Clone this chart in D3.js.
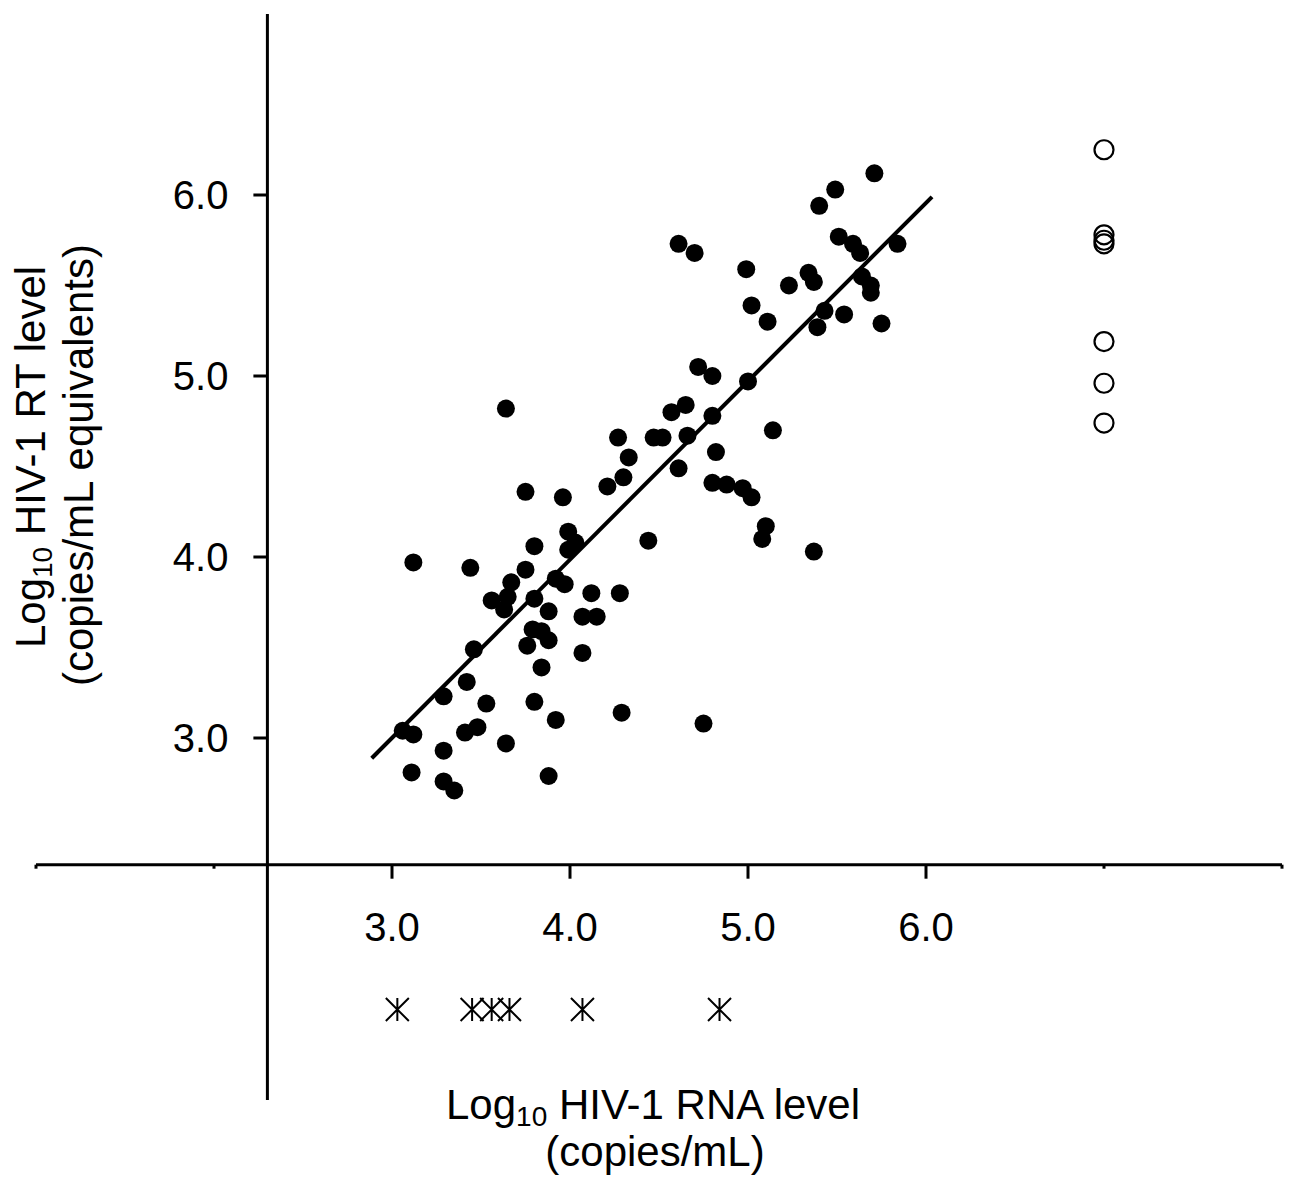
<!DOCTYPE html>
<html>

<head>
    <meta charset="utf-8">
    <title>HIV-1 RT vs RNA</title>
    <script src="https://d3js.org/d3.v7.min.js"></script>
    <style>
        body { margin: 0; background: #fff; }
        text { font-family: "Liberation Sans", Arial, sans-serif; fill: #000; }
    </style>
</head>

<body>
    <div id="chart"></div>

    <script>
        // filled dots: log10 RNA (x) vs log10 RT (y)
        const rnaLevels = [3.06, 3.12, 3.11, 3.12, 3.29, 3.29, 3.29, 3.35, 3.42, 3.41,
            3.44, 3.46, 3.48, 3.53, 3.56, 3.63, 3.65, 3.64, 3.64, 3.67,
            3.75, 3.75, 3.76, 3.79, 3.80, 3.80, 3.80, 3.84, 3.84, 3.88,
            3.88, 3.88, 3.92, 3.92, 3.96, 3.97, 3.99, 3.99, 4.03, 4.07,
            4.07, 4.12, 4.15, 4.21, 4.27, 4.28, 4.29, 4.30, 4.33, 4.44,
            4.47, 4.52, 4.57, 4.61, 4.61, 4.65, 4.66, 4.70, 4.72, 4.75,
            4.80, 4.80, 4.80, 4.82, 4.88, 4.97, 4.99, 5.00, 5.02, 5.02,
            5.10, 5.08, 5.11, 5.14, 5.23, 5.34, 5.37, 5.37, 5.39, 5.40,
            5.43, 5.49, 5.51, 5.54, 5.59, 5.63, 5.64, 5.69, 5.69, 5.71,
            5.75, 5.84];
        const rtLevels = [3.04, 3.02, 2.81, 3.97, 3.23, 2.93, 2.76, 2.71, 3.31, 3.03,
            3.94, 3.49, 3.06, 3.19, 3.76, 3.71, 3.78, 2.97, 4.82, 3.86,
            3.93, 4.36, 3.51, 3.60, 3.20, 4.06, 3.77, 3.39, 3.59, 3.54,
            3.70, 2.79, 3.10, 3.88, 4.33, 3.85, 4.14, 4.04, 4.08, 3.67,
            3.47, 3.80, 3.67, 4.39, 4.66, 3.80, 3.14, 4.44, 4.55, 4.09,
            4.66, 4.66, 4.80, 4.49, 5.73, 4.84, 4.67, 5.68, 5.05, 3.08,
            5.00, 4.78, 4.41, 4.58, 4.40, 4.38, 5.59, 4.97, 4.33, 5.39,
            4.17, 4.10, 5.30, 4.70, 5.50, 5.57, 5.52, 4.03, 5.27, 5.94,
            5.36, 6.03, 5.77, 5.34, 5.73, 5.68, 5.55, 5.50, 5.46, 6.12,
            5.29, 5.73];

        // open circles: RT detected, plotted at RNA = 7.0
        const openRna = [7.0, 7.0, 7.0, 7.0, 7.0, 7.0, 7.0];
        const openRt = [6.25, 5.78, 5.75, 5.73, 5.19, 4.96, 4.74];

        // asterisks: RNA detected, RT plotted at 1.5
        const starRna = [3.03, 3.45, 3.56, 3.66, 4.07, 4.84];
        const starRt = [1.5, 1.5, 1.5, 1.5, 1.5, 1.5];

        // regression line end points
        const fitX = [2.886, 6.034];
        const fitY = [2.888, 5.99];

        const majorTicks = [3, 4, 5, 6];
        const minorXTicks = [1, 2, 7, 8];
        const tickLabels = ["3.0", "4.0", "5.0", "6.0"];
        const axisCross = 2.3;

        const width = 1295, height = 1177;

        const svg = d3.select("#chart")
            .append("svg")
            .attr("width", width)
            .attr("height", height);

        const x = d3.scaleLinear().domain([1, 8]).range([36, 1282]);
        const y = d3.scaleLinear().domain([1, 7]).range([1100, 14]);

        // horizontal axis (crosses at 2.3)
        const xAxis = svg.append("g")
            .attr("transform", `translate(0, ${y(axisCross)})`);
        xAxis.append("line")
            .attr("x1", x(1)).attr("x2", x(8))
            .attr("stroke", "#000").attr("stroke-width", 3);
        xAxis.selectAll(".major")
            .data(majorTicks)
            .join("line")
            .attr("x1", d => x(d)).attr("x2", d => x(d))
            .attr("y1", 0).attr("y2", 14)
            .attr("stroke", "#000").attr("stroke-width", 3);
        xAxis.selectAll(".minor")
            .data(minorXTicks)
            .join("line")
            .attr("class", "minor")
            .attr("x1", d => x(d)).attr("x2", d => x(d))
            .attr("y1", 0).attr("y2", 4)
            .attr("stroke", "#000").attr("stroke-width", 3);
        xAxis.selectAll("text")
            .data(majorTicks)
            .join("text")
            .attr("x", d => x(d))
            .attr("y", 76)
            .attr("text-anchor", "middle")
            .style("font-size", "40px")
            .text((d, i) => tickLabels[i]);

        // vertical axis (crosses at 2.3)
        const yAxis = svg.append("g")
            .attr("transform", `translate(${x(axisCross)}, 0)`);
        yAxis.append("line")
            .attr("y1", y(1)).attr("y2", y(7))
            .attr("stroke", "#000").attr("stroke-width", 3);
        yAxis.selectAll(".major")
            .data(majorTicks)
            .join("line")
            .attr("y1", d => y(d)).attr("y2", d => y(d))
            .attr("x1", 0).attr("x2", -14)
            .attr("stroke", "#000").attr("stroke-width", 3);
        yAxis.selectAll("text")
            .data(majorTicks)
            .join("text")
            .attr("x", -39)
            .attr("y", d => y(d))
            .attr("dy", "0.35em")
            .attr("text-anchor", "end")
            .style("font-size", "40px")
            .text((d, i) => tickLabels[i]);

        // regression line
        svg.append("line")
            .attr("x1", x(fitX[0])).attr("y1", y(fitY[0]))
            .attr("x2", x(fitX[1])).attr("y2", y(fitY[1]))
            .attr("stroke", "#000").attr("stroke-width", 4);

        // filled dots
        svg.append("g")
            .selectAll("circle")
            .data(rnaLevels)
            .join("circle")
            .attr("cx", d => x(d))
            .attr("cy", (d, i) => y(rtLevels[i]))
            .attr("r", 9)
            .attr("fill", "#000");

        // open circles
        svg.append("g")
            .selectAll("circle")
            .data(openRna)
            .join("circle")
            .attr("cx", d => x(d))
            .attr("cy", (d, i) => y(openRt[i]))
            .attr("r", 9.5)
            .attr("fill", "none")
            .attr("stroke", "#000")
            .attr("stroke-width", 2.2);

        // asterisks
        const h = 11.5;
        svg.append("g")
            .selectAll("path")
            .data(starRna)
            .join("path")
            .attr("transform", (d, i) => `translate(${x(d)}, ${y(starRt[i])})`)
            .attr("d", `M0,${-h}L0,${h}M${-h},${-h}L${h},${h}M${-h},${h}L${h},${-h}`)
            .attr("stroke", "#000")
            .attr("stroke-width", 2)
            .attr("fill", "none");

        // x axis title
        const xt = svg.append("text")
            .attr("x", 653)
            .attr("y", 1119)
            .attr("text-anchor", "middle")
            .style("font-size", "42px");
        xt.append("tspan").text("Log");
        xt.append("tspan").attr("dy", 7).style("font-size", "28px").text("10");
        xt.append("tspan").attr("dy", -7).text(" HIV-1 RNA level");
        svg.append("text")
            .attr("x", 655)
            .attr("y", 1166)
            .attr("text-anchor", "middle")
            .style("font-size", "42px")
            .text("(copies/mL)");

        // y axis title
        const yt = svg.append("text")
            .attr("transform", "translate(45, 457) rotate(-90)")
            .attr("text-anchor", "middle")
            .style("font-size", "42px");
        yt.append("tspan").text("Log");
        yt.append("tspan").attr("dy", 7).style("font-size", "28px").text("10");
        yt.append("tspan").attr("dy", -7).text(" HIV-1 RT level");
        svg.append("text")
            .attr("transform", "translate(93, 465) rotate(-90)")
            .attr("text-anchor", "middle")
            .style("font-size", "42px")
            .text("(copies/mL equivalents)");
    </script>
</body>

</html>
